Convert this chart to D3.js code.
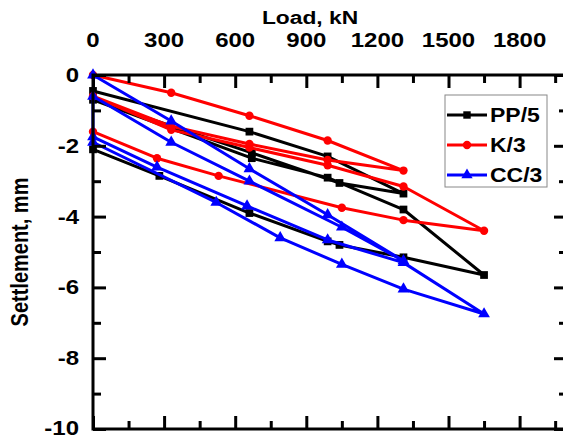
<!DOCTYPE html>
<html>
<head>
<meta charset="utf-8">
<script src="https://cdn.jsdelivr.net/npm/d3@7"></script>
<style>
  body { margin: 0; background: #fff; }
  text { font-family: Arial, "Liberation Sans", sans-serif; font-weight: bold; }
</style>
</head>
<body>
<div id="visualization"></div>
<script>
// load (kN) and settlement (mm) for each pile, in test order
const loadPP = [0, 660, 990, 1310, 1040, 670, 0, 670, 990, 1310, 1650, 1310, 1040, 990, 660, 280, 0];
const settlePP = [-0.45, -1.6, -2.3, -3.35, -3.05, -2.2, -0.7, -2.35, -2.9, -3.8, -5.65, -5.15, -4.8, -4.7, -3.9, -2.85, -2.1];

const loadK = [0, 330, 660, 990, 1310, 990, 660, 330, 0, 330, 660, 990, 1310, 1650, 1310, 1050, 530, 270, 0];
const settleK = [0, -0.5, -1.15, -1.85, -2.7, -2.4, -1.95, -1.45, -0.6, -1.55, -2.05, -2.55, -3.15, -4.4, -4.1, -3.75, -2.85, -2.35, -1.6];

const loadCC = [0, 330, 660, 990, 1310, 1050, 660, 330, 0, 0, 270, 650, 990, 1310, 1650, 1310, 1050, 790, 520, 0];
const settleCC = [0, -1.3, -2.65, -3.95, -5.25, -4.3, -3.0, -1.9, -0.6, -1.75, -2.6, -3.7, -4.66, -5.3, -6.75, -6.05, -5.35, -4.6, -3.6, -1.9];

const seriesNames = ['PP/5', 'K/3', 'CC/3'];
const seriesColors = ['#000000', '#ff0000', '#0000ff'];
const seriesSymbols = [d3.symbolSquare, d3.symbolCircle, d3.symbolTriangle];

const xTicks = [0, 300, 600, 900, 1200, 1500, 1800];
const xMinor = [150, 450, 750, 1050, 1350, 1650, 1950];
const yTicks = [0, -2, -4, -6, -8, -10];
const yMinor = [-1, -3, -5, -7, -9];

const width = 563;
const height = 439;
const plotLeft = 93;
const plotRight = 567;
const plotTop = 75;
const plotBottom = 429;

const svg = d3.select('#visualization')
  .append('svg')
  .attr('width', width)
  .attr('height', height);

const xScale = d3.scaleLinear().domain([0, 2000]).range([plotLeft, plotRight]);
const yScale = d3.scaleLinear().domain([-10, 0]).range([plotBottom, plotTop]);

// series
const series = [
  d3.zip(loadPP, settlePP),
  d3.zip(loadK, settleK),
  d3.zip(loadCC, settleCC),
];

const line = d3.line()
  .x((d) => xScale(d[0]))
  .y((d) => yScale(d[1]));

series.forEach((pts, i) => {
  const g = svg.append('g');
  g.append('path')
    .datum(pts)
    .attr('d', line)
    .attr('fill', 'none')
    .attr('stroke', seriesColors[i])
    .attr('stroke-width', 3)
    .attr('stroke-linejoin', 'round');
  g.selectAll('path.m')
    .data(pts)
    .enter()
    .append('path')
    .attr('class', 'm')
    .attr('d', d3.symbol().type(seriesSymbols[i]).size(i === 1 ? 55 : 60))
    .attr('transform', (d) => `translate(${xScale(d[0])},${yScale(d[1])})`)
    .attr('fill', seriesColors[i]);
});

// axes, ticks pointing inward
const axisG = svg.append('g');

function ticks(g, axis, values, size) {
  g.call(axis.tickValues(values).tickSize(size).tickFormat(''));
  g.select('.domain').remove();
  g.selectAll('line').attr('stroke', '#000').attr('stroke-width', 3);
}

ticks(axisG.append('g').attr('transform', `translate(0,${plotTop})`), d3.axisBottom(xScale), xTicks, 13);
ticks(axisG.append('g').attr('transform', `translate(0,${plotTop})`), d3.axisBottom(xScale), xMinor, 8);
ticks(axisG.append('g').attr('transform', `translate(0,${plotBottom})`), d3.axisTop(xScale), xTicks, 13);
ticks(axisG.append('g').attr('transform', `translate(0,${plotBottom})`), d3.axisTop(xScale), xMinor, 8);
ticks(axisG.append('g').attr('transform', `translate(${plotLeft},0)`), d3.axisRight(yScale), yTicks, 13);
ticks(axisG.append('g').attr('transform', `translate(${plotLeft},0)`), d3.axisRight(yScale), yMinor, 8);
ticks(axisG.append('g').attr('transform', `translate(${plotRight},0)`), d3.axisLeft(yScale), yTicks, 13);
ticks(axisG.append('g').attr('transform', `translate(${plotRight},0)`), d3.axisLeft(yScale), yMinor, 8);

axisG.append('rect')
  .attr('x', plotLeft)
  .attr('y', plotTop)
  .attr('width', plotRight - plotLeft)
  .attr('height', plotBottom - plotTop)
  .attr('fill', 'none')
  .attr('stroke', '#000')
  .attr('stroke-width', 3);

// tick labels
svg.append('g').selectAll('text')
  .data(xTicks)
  .enter()
  .append('text')
  .attr('transform', (d) => `translate(${xScale(d)},${plotTop - 28}) scale(1.2,1)`)
  .attr('text-anchor', 'middle')
  .attr('font-size', 20)
  .text((d) => d);

svg.append('g').selectAll('text')
  .data(yTicks)
  .enter()
  .append('text')
  .attr('transform', (d) => `translate(${plotLeft - 14},${Math.min(yScale(d) + 7, 435)}) scale(1.2,1)`)
  .attr('text-anchor', 'end')
  .attr('font-size', 20)
  .text((d) => d);

svg.append('text')
  .attr('transform', 'translate(310,24) scale(1.2,1)')
  .attr('text-anchor', 'middle')
  .attr('font-size', 19)
  .text('Load, kN');

svg.append('text')
  .attr('transform', 'translate(28,252) rotate(-90) scale(1,1.2)')
  .attr('text-anchor', 'middle')
  .attr('font-size', 20)
  .text('Settlement, mm');

// legend
const legend = svg.append('g');
legend.append('rect')
  .attr('x', 445)
  .attr('y', 95)
  .attr('width', 102)
  .attr('height', 92)
  .attr('fill', '#fff')
  .attr('stroke', '#888')
  .attr('stroke-width', 1);

seriesNames.forEach((name, i) => {
  const y = 115 + i * 30;
  legend.append('line')
    .attr('x1', 447)
    .attr('x2', 487)
    .attr('y1', y)
    .attr('y2', y)
    .attr('stroke', seriesColors[i])
    .attr('stroke-width', 3);
  legend.append('path')
    .attr('d', d3.symbol().type(seriesSymbols[i]).size(55))
    .attr('transform', `translate(467,${y})`)
    .attr('fill', seriesColors[i]);
  legend.append('text')
    .attr('transform', `translate(490,${y + 7}) scale(1.15,1)`)
    .attr('font-size', 20)
    .text(name);
});
</script>
</body>
</html>
